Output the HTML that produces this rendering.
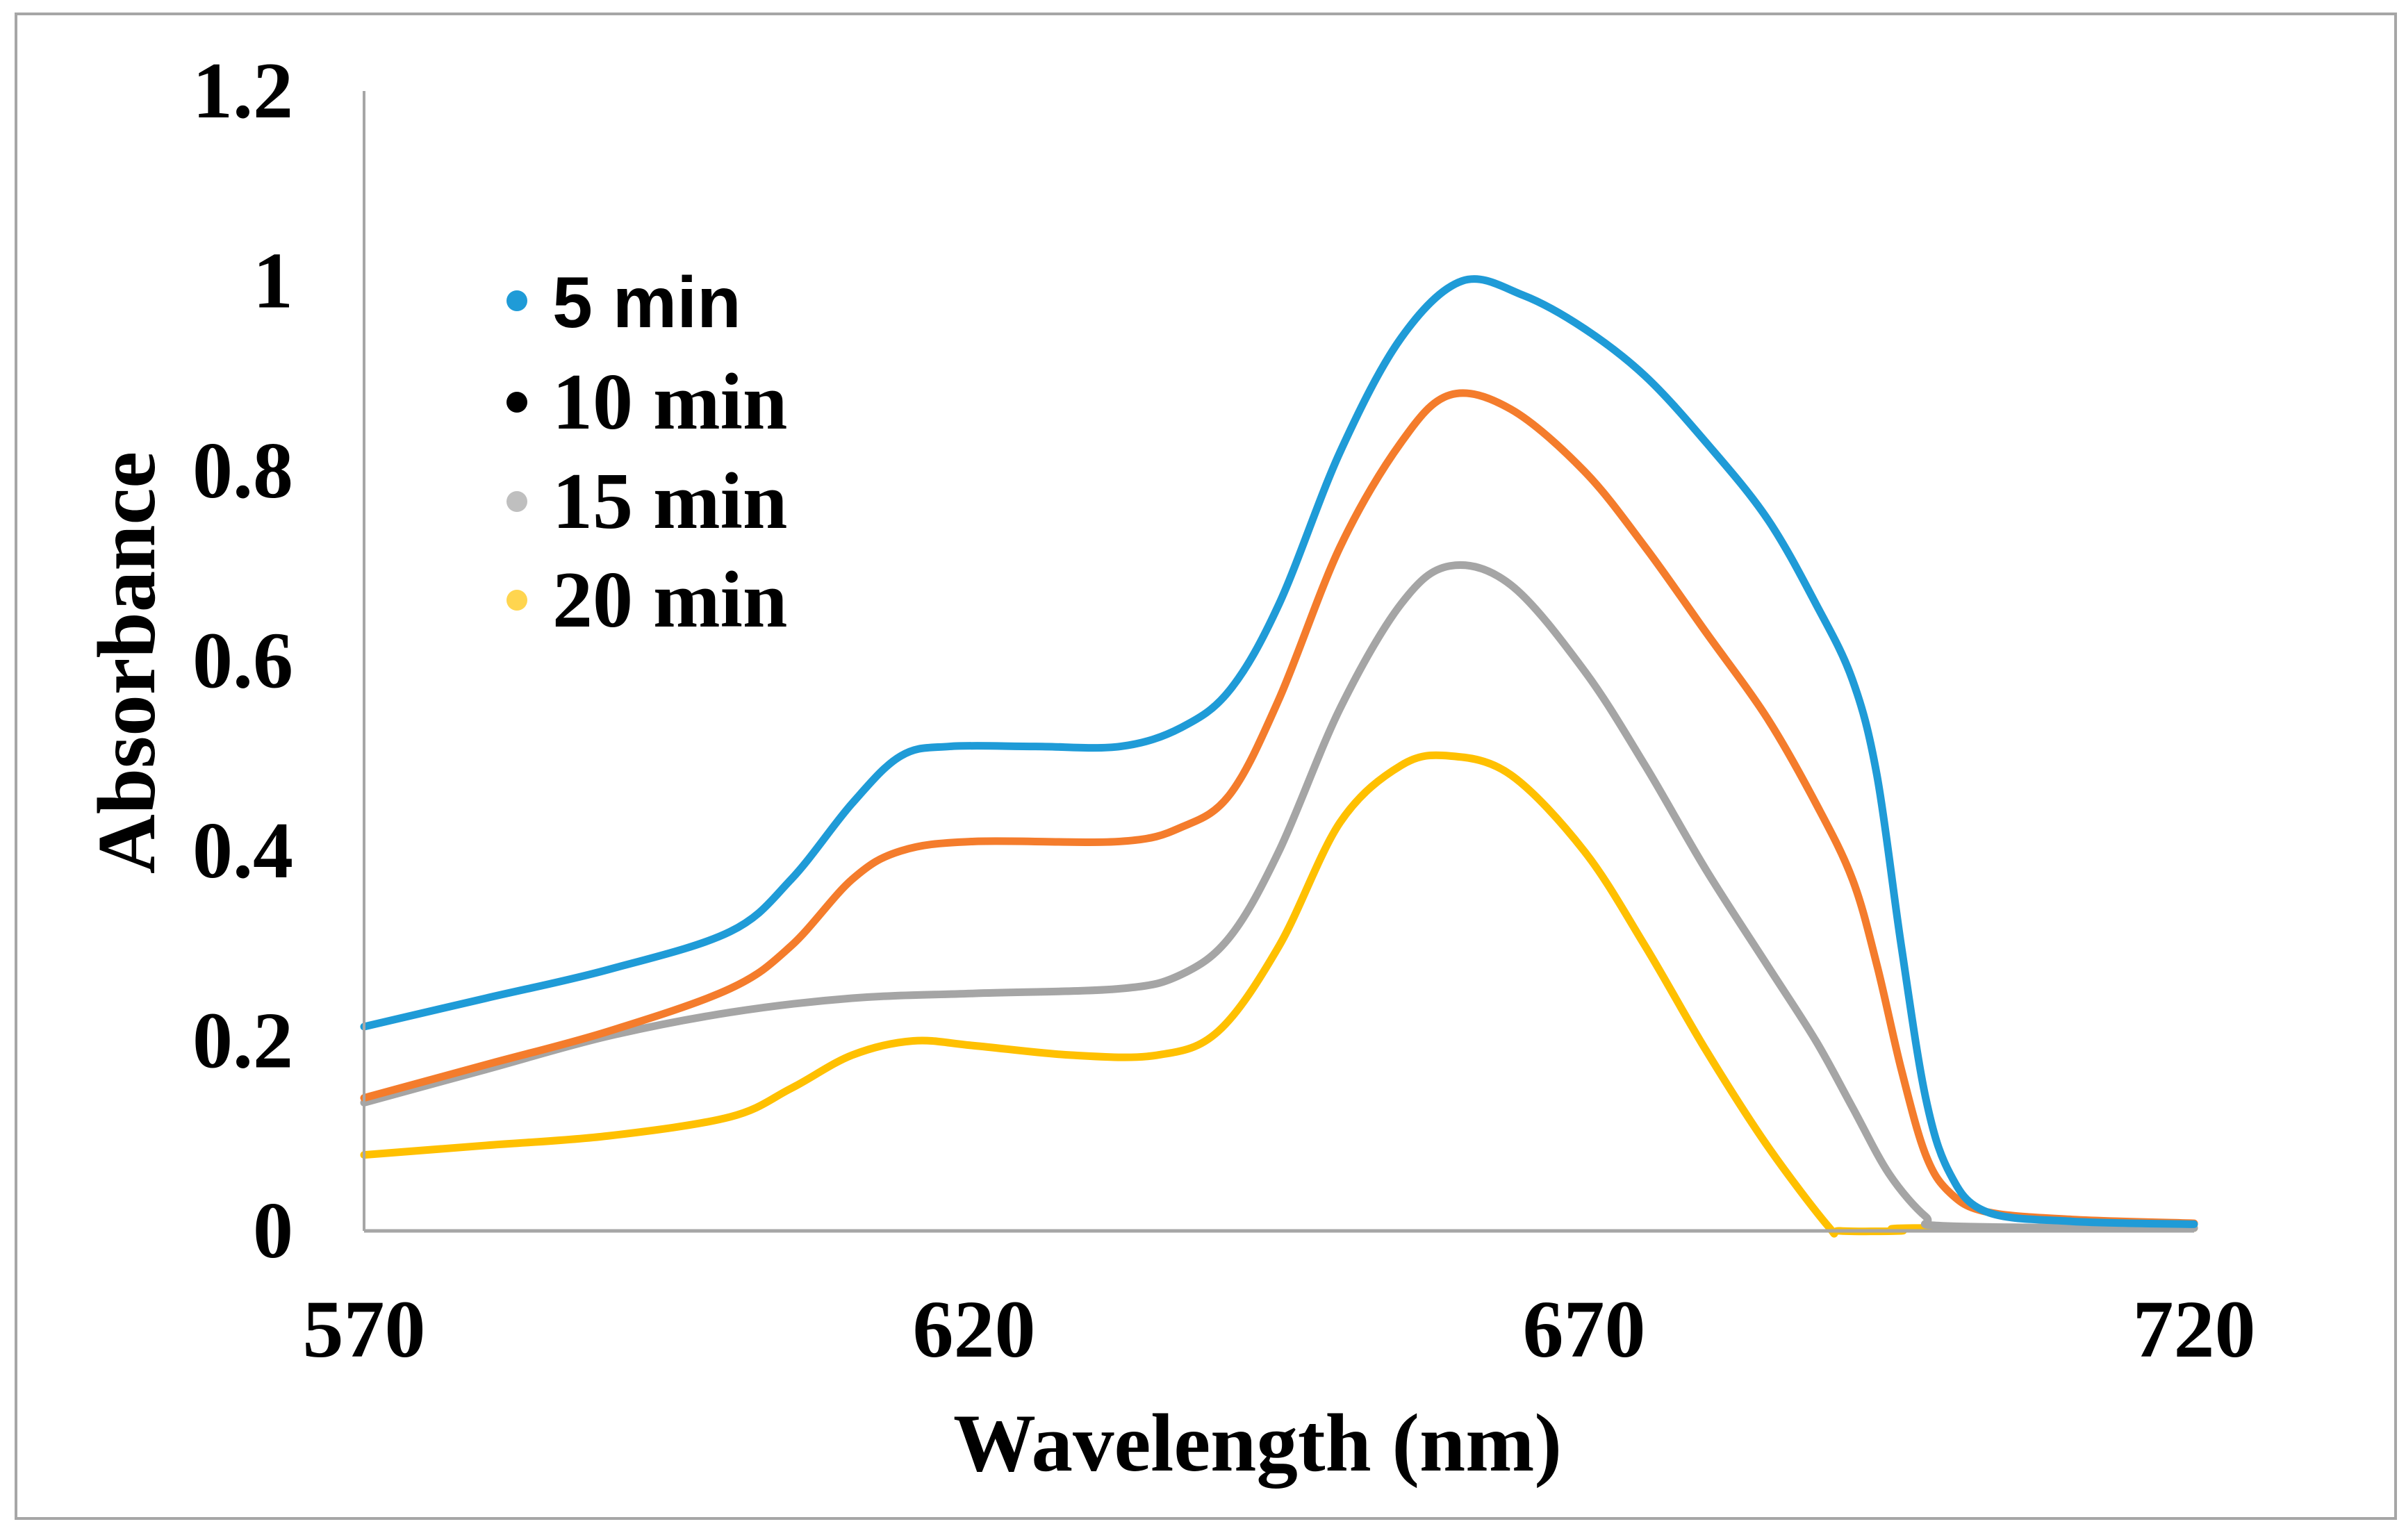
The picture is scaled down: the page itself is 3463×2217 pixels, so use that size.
<!DOCTYPE html>
<html><head><meta charset="utf-8"><style>
html,body{margin:0;padding:0;background:#fff;}
svg{display:block;}
.t{font-family:"Liberation Serif",serif;font-weight:bold;fill:#000;}
</style></head><body>
<svg id="chart" width="3463" height="2217" viewBox="0 0 3463 2217" xmlns="http://www.w3.org/2000/svg">
<rect x="23" y="20" width="3425" height="2166" fill="#fff" stroke="#a6a6a6" stroke-width="4"/>
<g id="plot"></g>
<g id="axes"></g>
<text class="t" x="1810" y="2117" font-size="119" text-anchor="middle">Wavelength (nm)</text>
<text class="t" x="0" y="0" font-size="119" text-anchor="middle" transform="translate(222,954) rotate(-90)">Absorbance</text>
<g id="legend"></g>
</svg>
<script>
const seriesNames = ["5 min","10 min","15 min","20 min"];
const seriesColors = ["#1f9bd7","#f47c2c","#a5a5a5","#ffc000"];
const xTicks = [570,620,670,720];
const yTicks = [0,0.2,0.4,0.6,0.8,1,1.2];
const yTickLabels = ["0","0.2","0.4","0.6","0.8","1","1.2"];
const wl5 = [570,580,590,600,605,610,614,618,625,632,637,641,645,650,655,660,665,670,675,680,685,689,692,694,696,698,700,703,710,720];
const abs5 = [0.215,0.245,0.275,0.315,0.37,0.45,0.50,0.51,0.51,0.51,0.53,0.57,0.66,0.82,0.94,1.0,0.985,0.95,0.90,0.83,0.75,0.66,0.58,0.48,0.30,0.14,0.06,0.02,0.01,0.007];
const wl10 = [570,580,590,600,605,610,614,620,632,637,641,645,650,655,659,664,670,675,680,685,689,692,694,696,698,700,703,710,720];
const abs10 = [0.14,0.175,0.21,0.255,0.30,0.37,0.40,0.41,0.41,0.425,0.46,0.56,0.72,0.83,0.88,0.865,0.80,0.72,0.63,0.54,0.45,0.37,0.28,0.17,0.08,0.04,0.02,0.012,0.008];
const wl15 = [570,580,590,600,610,620,632,637,641,645,650,655,659,664,670,675,680,685,689,692,695,698,700,720];
const abs15 = [0.135,0.17,0.205,0.23,0.245,0.25,0.255,0.27,0.31,0.40,0.55,0.66,0.70,0.68,0.59,0.49,0.38,0.28,0.20,0.13,0.06,0.015,0.005,0.003];
const wl20 = [570,580,590,600,605,610,615,620,628,635,640,645,650,655,659,664,670,675,680,685,690,691,696,697,720];
const abs20 = [0.08,0.09,0.10,0.12,0.15,0.185,0.20,0.195,0.185,0.185,0.21,0.30,0.43,0.49,0.50,0.48,0.40,0.30,0.19,0.09,0.005,0,0,0.003,0.003];
const allWl=[wl5,wl10,wl15,wl20], allAbs=[abs5,abs10,abs15,abs20];

const X0=524,X1=3158,Y0=1772,Y1=131;
const xs=v=>X0+(v-570)/(720-570)*(X1-X0);
const ys=v=>Y0-v/1.2*(Y0-Y1);
const NS="http://www.w3.org/2000/svg";
const mk=(t,a)=>{const e=document.createElementNS(NS,t);for(const k in a)e.setAttribute(k,a[k]);return e;};
const axes=document.getElementById('axes'), plot=document.getElementById('plot'), legend=document.getElementById('legend');

const ya=mk('line',{x1:X0,y1:Y1,x2:X0,y2:Y0,stroke:'#a6a6a6','stroke-width':4});


axes.appendChild(ya);
const xa=mk('line',{x1:X0,y1:Y0,x2:X1,y2:Y0,stroke:'#a6a6a6','stroke-width':5});


axes.appendChild(xa);

yTicks.forEach((v,i)=>{
  const t=mk('text',{x:422,y:ys(v)+38,'font-size':116,'text-anchor':'end',class:'t'});
  
  
  t.textContent=yTickLabels[i];axes.appendChild(t);
});
xTicks.forEach(v=>{
  const t=mk('text',{x:xs(v),y:1953,'font-size':118,'text-anchor':'middle',class:'t'});
  
  
  t.textContent=v;axes.appendChild(t);
});

function pathFor(w,a){
  const p=w.map((v,i)=>[xs(v),ys(a[i])]);
  let d='M'+p[0][0]+','+p[0][1];
  for(let i=0;i<p.length-1;i++){
    const p0=p[i-1]||p[i],p1=p[i],p2=p[i+1],p3=p[i+2]||p2;
    const c1=[p1[0]+(p2[0]-p0[0])/6,p1[1]+(p2[1]-p0[1])/6];
    const c2=[p2[0]-(p3[0]-p1[0])/6,p2[1]-(p3[1]-p1[1])/6];
    d+=` C${c1[0]},${c1[1]} ${c2[0]},${c2[1]} ${p2[0]},${p2[1]}`;
  }
  return d;
}
for(let s=allWl.length-1;s>=0;s--){
  const path=mk('path',{d:pathFor(allWl[s],allAbs[s]),fill:'none',stroke:seriesColors[s],'stroke-width':11,'stroke-linejoin':'round','stroke-linecap':'round'});
  
  
  plot.appendChild(path);
}
const legY=[433,579,722,864];
const legDot=["#1f9bd7","#000","#bfbfbf","#ffd54f"];
seriesNames.forEach((n,i)=>{
  const c=mk('circle',{cx:744,cy:legY[i],r:15,fill:legDot[i]});
  
  
  legend.appendChild(c);
  const t=mk('text',{x:795,y:legY[i]+38,'font-size':i===0?104:116,'font-family':i===0?'"Liberation Sans",sans-serif':'"Liberation Serif",serif','font-weight':'bold',fill:'#000'});
  
  
  t.textContent=n;legend.appendChild(t);
});
</script>
</body></html>
